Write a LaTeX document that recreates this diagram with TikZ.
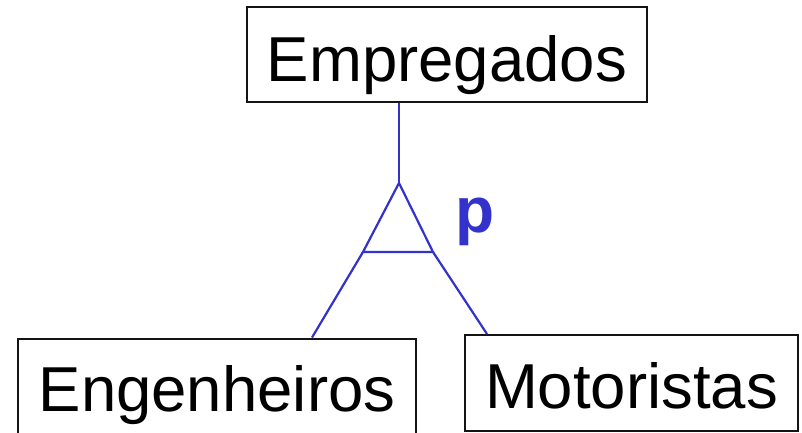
\documentclass[tikz,border=0pt]{standalone}
\usepackage{fontspec}
\setmainfont{Liberation Sans}
\definecolor{isablue}{RGB}{51,51,204}
\definecolor{boxline}{RGB}{20,20,20}
\tikzset{
  entity/.style={draw=boxline, line width=2pt, inner sep=0pt, align=center,
    font=\fontsize{63.5}{70}\selectfont},
  isaline/.style={draw=isablue, line width=2.2pt},
  isalabel/.style={text=isablue, inner sep=0pt, font=\fontsize{64}{70}\selectfont\bfseries}
}
\begin{document}
\begin{tikzpicture}[x=1pt,y=1pt]
\useasboundingbox (0,0) rectangle (802,-432);
\node[entity, minimum width=400pt, text height=74pt, text depth=21pt] (emp) at (447,-54.5) {Empregados};
\node[entity, minimum width=398pt, text height=73pt, text depth=22pt] (eng) at (217,-386) {Engenheiros};
\node[entity, minimum width=333pt, text height=73pt, text depth=23pt] (mot) at (631.5,-383) {Motoristas};
\coordinate (apex) at (399,-183);
\coordinate (bl) at (363,-252);
\coordinate (br) at (433,-252);
\coordinate (ex1) at (312,0);
\coordinate (ex2) at (487,0);
\draw[isaline] (apex |- emp.south) -- (apex);
\draw[isaline, line join=miter] (apex) -- (bl) -- (br) -- cycle;
\draw[isaline] (bl) -- (ex1 |- eng.north);
\draw[isaline] (br) -- (ex2 |- mot.north);
\node[isalabel, anchor=base west] (p) at (455,-232) {p};
\end{tikzpicture}
\end{document}
